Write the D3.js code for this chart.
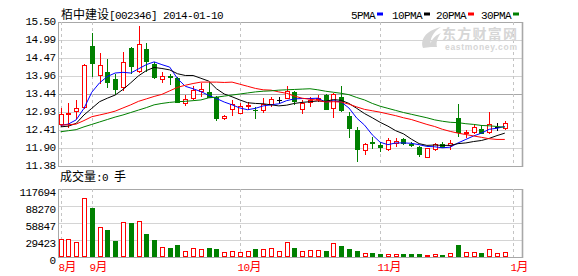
<!DOCTYPE html>
<html><head><meta charset="utf-8">
<script src="https://cdn.jsdelivr.net/npm/d3@7"></script>
<style>
html,body{margin:0;padding:0;background:#fff;}
svg{display:block;}
</style></head><body>
<svg id="c" width="578" height="276"></svg>
<script>
// ---------------- data ----------------
const titleName = "栢中建设";
const titleCode = "[002346] 2014-01-10";
const openP  = [12.57,12.87,12.95,13.08,14.81,13.98,14.08,13.87,13.63,14.76,14.11,14.73,14.30,13.88,13.95,13.91,13.17,13.32,13.53,13.50,13.34,12.74,13.00,12.91,13.10,12.99,12.97,13.15,13.28,13.33,13.51,13.00,13.22,13.31,13.41,13.03,13.34,12.81,12.41,11.85,12.07,11.98,11.86,12.03,12.15,12.01,11.92,11.65,11.86,12.02,11.97,12.74,12.35,12.34,12.44,12.34,12.50,12.48];
const closeP = [12.86,12.89,13.03,14.27,14.32,14.27,13.79,13.57,14.35,14.24,14.87,14.39,13.93,13.95,13.93,13.21,13.29,13.55,13.58,13.36,12.75,12.82,13.15,13.10,13.12,12.97,13.15,13.29,13.28,13.54,13.24,13.19,13.28,13.33,13.02,13.43,12.97,12.46,11.87,12.00,12.05,11.92,12.11,12.10,12.04,11.97,11.72,11.89,12.01,11.93,12.04,12.34,12.36,12.51,12.33,12.59,12.50,12.60];
const highP  = [13.04,13.18,13.27,14.30,15.18,14.60,14.43,14.01,14.65,14.79,15.39,14.91,14.36,14.06,14.01,13.94,13.41,13.67,13.75,13.79,13.38,12.85,13.27,13.17,13.20,13.07,13.32,13.35,13.34,13.67,13.54,13.27,13.34,13.40,13.43,13.46,13.67,12.92,12.49,12.05,12.21,12.08,12.19,12.17,12.17,12.07,11.94,11.90,12.05,12.08,12.12,13.15,12.41,12.57,12.55,12.93,12.60,12.67];
const lowP   = [12.52,12.50,12.75,13.04,13.96,13.76,13.63,13.44,13.55,14.05,14.08,14.10,13.91,13.77,13.73,13.20,13.13,13.30,13.38,13.34,12.70,12.72,12.83,12.90,13.00,12.74,12.92,13.10,13.18,13.32,13.15,12.90,13.10,13.23,13.00,12.79,12.96,12.22,11.53,11.71,11.89,11.80,11.84,11.95,12.02,11.94,11.67,11.64,11.84,11.92,11.86,12.25,12.22,12.32,12.31,12.32,12.41,12.44];
const volume = [31200,31200,25400,101600,85300,51400,47300,28200,60600,58900,62300,39800,29900,16800,15600,20800,10400,15100,13900,15600,13900,8100,9900,8700,9900,13900,13900,15600,10400,25400,15100,10400,11600,11600,10400,23700,19000,13900,10400,6400,6900,5200,4900,4900,5200,5200,5200,3500,4900,3500,6400,20800,8700,8700,6900,13900,6400,8700];
const ma5  = [12.54,12.58,12.70,13.03,13.49,13.76,13.94,14.04,14.06,14.04,14.16,14.28,14.36,14.28,14.21,13.88,13.66,13.59,13.51,13.40,13.31,13.21,13.13,13.04,12.99,13.03,13.10,13.13,13.16,13.25,13.30,13.31,13.31,13.32,13.21,13.25,13.21,13.04,12.75,12.55,12.27,12.06,11.99,12.04,12.04,12.03,11.99,11.94,11.93,11.90,11.92,12.04,12.14,12.24,12.32,12.43,12.46,12.51];
const ma10 = [12.50,12.52,12.60,12.84,13.03,13.22,13.32,13.41,13.57,13.76,13.96,14.11,14.20,14.17,14.13,14.02,13.97,13.97,13.89,13.81,13.59,13.44,13.36,13.27,13.19,13.17,13.16,13.13,13.10,13.12,13.17,13.20,13.22,13.24,13.23,13.28,13.26,13.17,13.03,12.88,12.76,12.63,12.52,12.39,12.30,12.15,12.02,11.97,11.98,11.97,11.97,12.02,12.04,12.08,12.11,12.17,12.25,12.32];
const ma20 = [12.55,12.56,12.58,12.68,12.79,12.84,12.89,12.95,13.04,13.13,13.23,13.30,13.37,13.43,13.53,13.63,13.69,13.74,13.78,13.78,13.78,13.77,13.78,13.72,13.66,13.60,13.56,13.55,13.50,13.46,13.38,13.32,13.29,13.26,13.21,13.22,13.21,13.15,13.07,13.00,12.96,12.92,12.87,12.82,12.76,12.71,12.64,12.57,12.51,12.43,12.37,12.32,12.28,12.24,12.20,12.16,12.14,12.14];
const ma30 = [12.36,12.39,12.42,12.50,12.57,12.64,12.71,12.78,12.84,12.91,12.98,13.05,13.13,13.17,13.20,13.22,13.23,13.25,13.27,13.33,13.35,13.38,13.41,13.44,13.47,13.50,13.52,13.53,13.55,13.56,13.57,13.58,13.59,13.56,13.52,13.49,13.46,13.42,13.34,13.27,13.17,13.09,13.03,12.97,12.91,12.86,12.81,12.76,12.70,12.66,12.63,12.62,12.59,12.57,12.54,12.53,12.51,12.49];
const priceTicks = ["15.50","14.99","14.47","13.96","13.44","12.93","12.41","11.90","11.38"];
const volTicks = ["117694","88270","58847","29423","0"];
const monthLabels = ["8月","9月","10月","11月","1月"];
const monthIdx = [0,4,23,41,58];
const legendNames = ["5PMA","10PMA","20PMA","30PMA"];

// ---------------- layout ----------------
const L = 58, R = 522, T = 22, B = 166, VT = 189, VB = 257;
const RED = "#ff0000", GREEN = "#008000", BLUE = "#0000ff";
const maColors = [BLUE, "#000000", RED, GREEN];
const MONO = "'Liberation Mono', monospace";
const CJK = "'Noto Sans CJK SC', sans-serif";

const svg = d3.select("#c");
const x = d3.scaleLinear().domain([0, 58]).range([60.6, 512.6]);
const pMin = +priceTicks[priceTicks.length-1], pMax = +priceTicks[0];
const y = d3.scaleLinear().domain([pMin, pMax]).range([B, T]);
const yv = d3.scaleLinear().domain([0, +volTicks[0]]).range([VB, VT]);
const px = i => Math.round(x(i));
const py = v => Math.round(y(v));

// gridlines
const grid = svg.append("g");
priceTicks.forEach((t, k) => {
  const yy = py(+t) + 0.5;
  grid.append("line").attr("x1", L).attr("x2", R).attr("y1", yy).attr("y2", yy)
    .attr("stroke", k === 4 ? "#a8a8a8" : (k === 0 || k === priceTicks.length-1 ? "#a8a8a8" : "#d4d4d4"));
});
volTicks.forEach((t, k) => {
  const yy = Math.round(yv(+t)) + 0.5;
  grid.append("line").attr("x1", L).attr("x2", R).attr("y1", yy).attr("y2", yy)
    .attr("stroke", (k === 0 || k === volTicks.length-1) ? "#a8a8a8" : "#d4d4d4");
});
// vertical dashed month lines
monthIdx.forEach(i => {
  const xx = px(i) + 0.5;
  [[T, B], [VT, VB]].forEach(([a, b]) => {
    grid.append("line").attr("x1", xx).attr("x2", xx).attr("y1", a).attr("y2", b)
      .attr("stroke", "#c4c4c4").attr("stroke-dasharray", "3,3");
  });
});
// frames
[[T, B], [VT, VB]].forEach(([a, b]) => {
  grid.append("line").attr("x1", L + 0.5).attr("x2", L + 0.5).attr("y1", a).attr("y2", b + 1).attr("stroke", "#a8a8a8");
  grid.append("line").attr("x1", R + 0.5).attr("x2", R + 0.5).attr("y1", a).attr("y2", b + 1).attr("stroke", "#a8a8a8").attr("stroke-width", 1.6);
});

// axis labels
const lab = svg.append("g").attr("font-family", MONO).attr("font-size", "11px")
  .attr("letter-spacing", "-0.6px").attr("fill", "#000").attr("text-anchor", "end");
priceTicks.forEach(t => {
  lab.append("text").attr("x", 55.5).attr("y", y(+t) + 3).text(t);
});
volTicks.forEach(t => {
  lab.append("text").attr("x", 55.5).attr("y", yv(+t) + 6.5).text(t);
});

// watermark
const wm = svg.append("g").attr("fill", "#d6d6d6");
wm.append("path").attr("d", "M423,48 C420,40 425,31 441,27 C433,32 429,39 431,47 Z M430,47 C430,41 434,36 441,33 C437,38 436,43 437,47 Z");
wm.append("text").attr("x", 442).attr("y", 38.5).attr("font-family", CJK).attr("font-weight", "bold")
  .attr("font-size", "14px").attr("textLength", 75).text("东方财富网");
wm.append("text").attr("x", 445).attr("y", 49.5).attr("font-family", "'Liberation Sans', sans-serif")
  .attr("font-weight", "bold").attr("font-size", "8.5px").attr("textLength", 72).text("eastmoney.com");

// clip
svg.append("clipPath").attr("id", "pc").append("rect").attr("x", L + 1).attr("y", T).attr("width", R - L - 1).attr("height", B - T);

// candles
const idx = d3.range(closeP.length);
const cg = svg.append("g").attr("shape-rendering", "crispEdges");
const dir = i => closeP[i] > openP[i] ? 1 : (closeP[i] < openP[i] ? -1 : 0);
const col = i => dir(i) > 0 ? RED : (dir(i) < 0 ? GREEN : "#000");
cg.selectAll("line.wick").data(idx).join("line").attr("class", "wick")
  .attr("x1", i => px(i) + 0.5).attr("x2", i => px(i) + 0.5)
  .attr("y1", i => py(highP[i])).attr("y2", i => py(lowP[i]) + 1)
  .attr("stroke", col);
cg.selectAll("rect.up").data(idx.filter(i => dir(i) > 0)).join("rect").attr("class", "up")
  .attr("x", i => px(i) - 1.5).attr("width", 4)
  .attr("y", i => py(closeP[i]) + 0.5)
  .attr("height", i => Math.max(1, py(openP[i]) - py(closeP[i])))
  .attr("fill", "#fff").attr("stroke", RED);
cg.selectAll("rect.dn").data(idx.filter(i => dir(i) < 0)).join("rect").attr("class", "dn")
  .attr("x", i => px(i) - 2).attr("width", 5)
  .attr("y", i => py(openP[i]))
  .attr("height", i => Math.max(1, py(closeP[i]) - py(openP[i]) + 1))
  .attr("fill", GREEN);
cg.selectAll("line.flat").data(idx.filter(i => dir(i) === 0)).join("line").attr("class", "flat")
  .attr("x1", i => px(i) - 2).attr("x2", i => px(i) + 3)
  .attr("y1", i => py(closeP[i]) + 0.5).attr("y2", i => py(closeP[i]) + 0.5)
  .attr("stroke", "#000");

// moving averages
const line = d3.line().x((d, i) => x(i)).y(d => y(d));
[ma5, ma10, ma20, ma30].forEach((arr, k) => {
  svg.append("path").attr("d", line(arr)).attr("fill", "none")
    .attr("stroke", maColors[k]).attr("stroke-width", 1).attr("clip-path", "url(#pc)");
});

// volume bars
const vg = svg.append("g").attr("shape-rendering", "crispEdges");
vg.selectAll("rect.vu").data(idx.filter(i => dir(i) >= 0)).join("rect").attr("class", "vu")
  .attr("x", i => px(i) - 1.5).attr("width", 4)
  .attr("y", i => Math.round(yv(volume[i])) + 0.5)
  .attr("height", i => VB - Math.round(yv(volume[i])) - 1)
  .attr("fill", "#fff").attr("stroke", RED);
vg.selectAll("rect.vd").data(idx.filter(i => dir(i) < 0)).join("rect").attr("class", "vd")
  .attr("x", i => px(i) - 2).attr("width", 5)
  .attr("y", i => Math.round(yv(volume[i])))
  .attr("height", i => VB - Math.round(yv(volume[i])))
  .attr("fill", GREEN);

// mixed-font text helper
function mixed(sel, parts) {
  parts.forEach(([s, f]) => {
    const t = sel.append("tspan").text(s);
    if (f === "cjk") t.attr("font-family", CJK).attr("font-size", "12px").attr("letter-spacing", "0px");
    else t.attr("font-family", MONO).attr("font-size", "11px").attr("letter-spacing", "-0.6px");
  });
  return sel;
}
// title
mixed(svg.append("text").attr("x", 61).attr("y", 18.5).attr("fill", "#000"),
  [[titleName, "cjk"], [titleCode, "mono"]]);
// volume caption
mixed(svg.append("text").attr("x", 60).attr("y", 181).attr("fill", "#000"),
  [["成交量", "cjk"], [":0 ", "mono"], ["手", "cjk"]]);
// month labels
monthLabels.forEach((m, k) => {
  const s = m.replace("月", "");
  mixed(svg.append("text").attr("x", px(monthIdx[k]) - 2.5).attr("y", 271).attr("fill", RED),
    [[s, "mono"], ["月", "cjk"]]);
});
// legend
const legX = [351, 392, 436, 481];
legendNames.forEach((n, k) => {
  const t = svg.append("text").attr("x", legX[k]).attr("y", 18.5).attr("font-family", MONO)
    .attr("font-size", "11px").attr("letter-spacing", "-0.6px").attr("fill", "#000").text(n);
  const w = t.node().getComputedTextLength();
  svg.append("rect").attr("x", Math.round(legX[k] + w + 2)).attr("y", 12.5).attr("width", 6).attr("height", 3)
    .attr("fill", maColors[k]);
});
</script>
</body></html>
